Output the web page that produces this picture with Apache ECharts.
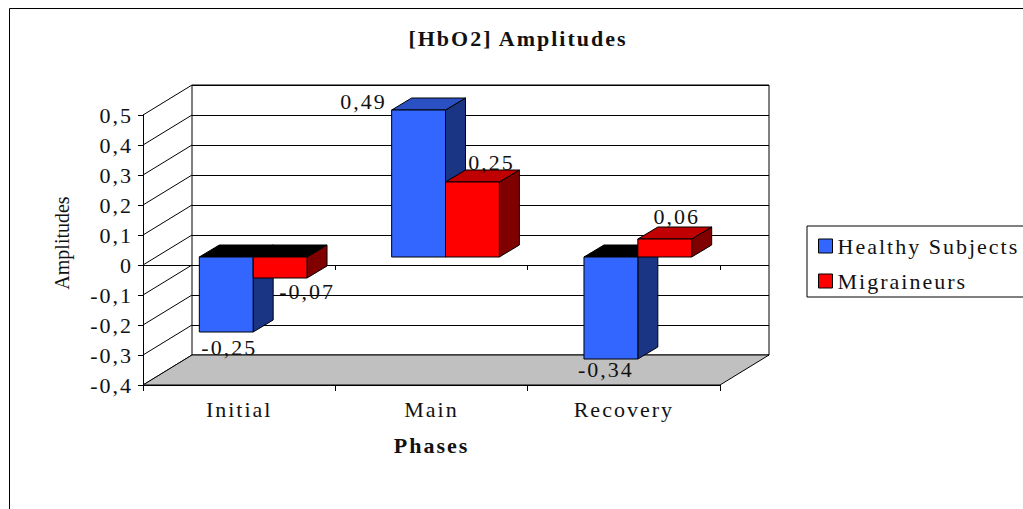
<!DOCTYPE html>
<html>
<head>
<meta charset="utf-8">
<script src="https://cdn.jsdelivr.net/npm/echarts@6/dist/echarts.min.js"></script>
<style>
html, body { margin: 0; padding: 0; background: #fff; }
#amplitudeContainer { width: 1023px; height: 509px; }
/* Excel-style loose letter spacing on the chart text */
#amplitudeContainer svg text { letter-spacing: 2px; }
#amplitudeContainer svg text[style*="20px"] { letter-spacing: 0; }
</style>
</head>
<body>
<div id="amplitudeContainer"></div>
<script>
var categories = ['Initial', 'Main', 'Recovery'];
var healthy = [-0.25, 0.49, -0.34];
var migraineurs = [-0.07, 0.25, 0.06];
var seriesNames = ['Healthy Subjects', 'Migraineurs'];
var yTicks = [-0.4, -0.3, -0.2, -0.1, 0, 0.1, 0.2, 0.3, 0.4, 0.5];

var FONT = 'Liberation Serif';
var TEXT = '#111';
var WALL = [49, -30];     // front plane -> back wall
var SHIFT = [14, -8];     // front plane -> bar front faces
var DEPTH = [20, -12];    // bar thickness
var BAR_FRAC = 0.28;

var palettes = [
    { front: '#3366FF', side: '#1B3585', top: '#2A50C4' },
    { front: '#FF0000', side: '#800000', top: '#C00000' }
];
// where each value label sits, relative to the bar's front face
var labelNudge = [
    [[3, 15], [-55, -9], [-5, 10]],
    [[27, 13], [19, -20], [12, -23]]
];

function fmt(v) {
    return String(+(+v).toFixed(2)).replace('.', ',');
}

function renderDiagonal(params, api) {
    var cs = params.coordSys;
    var y = api.coord([0, api.value(1)])[1];
    return {
        type: 'line',
        shape: { x1: cs.x, y1: y, x2: cs.x + WALL[0], y2: y + WALL[1] },
        style: { stroke: '#000', lineWidth: 1 }
    };
}

function renderFloor(params, api) {
    var cs = params.coordSys;
    var y = api.coord([0, api.value(1)])[1];
    var xl = cs.x, xr = cs.x + cs.width;
    return {
        type: 'polygon',
        shape: { points: [[xl, y], [xl + WALL[0], y + WALL[1]], [xr + WALL[0], y + WALL[1]], [xr, y]] },
        style: { fill: '#C0C0C0', stroke: '#000', lineWidth: 1 }
    };
}

function makeBar(k) {
    var pal = palettes[k];
    return function (params, api) {
        var ci = api.value(0), v = api.value(1);
        var band = api.size([1, 0])[0];
        var w = band * BAR_FRAC;
        var c = api.coord([ci, 0]);
        var t = api.coord([ci, v]);
        var x0 = c[0] + SHIFT[0] + (k === 0 ? -w : 0);
        var x1 = x0 + w;
        var yZero = c[1] + SHIFT[1];
        var yVal = t[1] + SHIFT[1];
        var yTop = Math.min(yZero, yVal), yBot = Math.max(yZero, yVal);
        var dx = DEPTH[0], dy = DEPTH[1];
        var nudge = labelNudge[k][params.dataIndex];
        return {
            type: 'group',
            children: [
                {
                    type: 'polygon',
                    shape: { points: [[x1, yTop], [x1 + dx, yTop + dy], [x1 + dx, yBot + dy], [x1, yBot]] },
                    style: { fill: pal.side, stroke: '#000', lineWidth: 1 }
                },
                {
                    type: 'polygon',
                    shape: { points: [[x0, yTop], [x0 + dx, yTop + dy], [x1 + dx, yTop + dy], [x1, yTop]] },
                    style: { fill: v < 0 ? '#000' : pal.top, stroke: '#000', lineWidth: 1 }
                },
                {
                    type: 'rect',
                    shape: { x: x0, y: yTop, width: w, height: yBot - yTop },
                    style: { fill: pal.front, stroke: '#000', lineWidth: 1 }
                },
                {
                    type: 'text',
                    x: (x0 + x1) / 2 + nudge[0],
                    y: yVal + nudge[1],
                    style: {
                        text: fmt(v),
                        fontFamily: FONT,
                        fontSize: 22,
                        fill: TEXT,
                        textAlign: 'center',
                        textVerticalAlign: 'middle'
                    }
                }
            ]
        };
    };
}

var dom = document.getElementById('amplitudeContainer');
var myChart = echarts.init(dom, null, { renderer: 'svg' });

var option = {
    backgroundColor: '#fff',
    animation: false,
    title: {
        text: '[HbO2] Amplitudes',
        left: 518,
        top: 27,
        padding: 0,
        textAlign: 'center',
        textStyle: { fontFamily: FONT, fontSize: 22, fontWeight: 'bold', color: TEXT }
    },
    legend: {
        data: seriesNames,
        orient: 'vertical',
        left: 807,
        top: 226,
        icon: 'rect',
        itemWidth: 14,
        itemHeight: 14,
        itemGap: 13,
        padding: [9, 60, 5, 11],
        borderColor: '#000',
        borderWidth: 1,
        borderRadius: 0,
        backgroundColor: '#fff',
        itemStyle: { borderColor: '#000', borderWidth: 1 },
        textStyle: { fontFamily: FONT, fontSize: 22, color: TEXT }
    },
    graphic: [
        {
            type: 'rect',
            x: 9.5,
            y: 8.5,
            shape: { width: 1100, height: 600 },
            style: { fill: 'none', stroke: '#000', lineWidth: 1 },
            silent: true
        }
    ],
    grid: [
        { left: 143, top: 115, width: 577, height: 270 },
        {
            left: 143 + WALL[0], top: 115 + WALL[1], width: 577, height: 270,
            show: true, borderColor: '#000', borderWidth: 1, backgroundColor: 'transparent'
        }
    ],
    xAxis: [
        {
            gridIndex: 0,
            type: 'category',
            data: categories,
            position: 'bottom',
            axisLine: { onZero: true, lineStyle: { color: '#000' } },
            axisTick: { show: true, length: 5, lineStyle: { color: '#000' } },
            axisLabel: { show: false }
        },
        {
            gridIndex: 0,
            type: 'category',
            data: categories,
            position: 'bottom',
            axisLine: { onZero: false, lineStyle: { color: '#000' } },
            axisTick: { show: true, length: 6, lineStyle: { color: '#000' } },
            axisLabel: { margin: 13, fontFamily: FONT, fontSize: 22, color: TEXT },
            name: 'Phases',
            nameLocation: 'middle',
            nameGap: 49,
            nameTextStyle: { fontFamily: FONT, fontSize: 22, fontWeight: 'bold', color: TEXT }
        },
        {
            gridIndex: 1,
            type: 'category',
            data: categories,
            axisLine: { show: false },
            axisTick: { show: false },
            axisLabel: { show: false }
        }
    ],
    yAxis: [
        {
            gridIndex: 0,
            type: 'value',
            min: yTicks[0],
            max: yTicks[yTicks.length - 1],
            interval: 0.1,
            axisLine: { show: true, lineStyle: { color: '#000' } },
            axisTick: { show: true, length: 5, lineStyle: { color: '#000' } },
            splitLine: { show: false },
            axisLabel: {
                margin: 10,
                fontFamily: FONT,
                fontSize: 22,
                color: TEXT,
                formatter: fmt
            },
            name: 'Amplitudes',
            nameLocation: 'middle',
            nameGap: 71,
            nameTextStyle: { fontFamily: FONT, fontSize: 20, color: TEXT, padding: [0, 0, 0, 14] }
        },
        {
            gridIndex: 1,
            type: 'value',
            min: yTicks[0],
            max: yTicks[yTicks.length - 1],
            interval: 0.1,
            axisLine: { show: false },
            axisTick: { show: false },
            axisLabel: { show: false },
            splitLine: { show: true, lineStyle: { color: '#000', width: 1 } }
        }
    ],
    series: [
        {
            type: 'custom',
            xAxisIndex: 0,
            yAxisIndex: 0,
            silent: true,
            z: 1,
            renderItem: renderDiagonal,
            data: yTicks.map(function (v) { return [0, v]; })
        },
        {
            type: 'custom',
            xAxisIndex: 0,
            yAxisIndex: 0,
            silent: true,
            z: 1,
            renderItem: renderFloor,
            data: [[0, yTicks[0]]]
        },
        {
            name: seriesNames[0],
            type: 'custom',
            xAxisIndex: 0,
            yAxisIndex: 0,
            z: 3,
            itemStyle: { color: palettes[0].front },
            renderItem: makeBar(0),
            data: healthy.map(function (v, i) { return [i, v]; })
        },
        {
            name: seriesNames[1],
            type: 'custom',
            xAxisIndex: 0,
            yAxisIndex: 0,
            z: 4,
            itemStyle: { color: palettes[1].front },
            renderItem: makeBar(1),
            data: migraineurs.map(function (v, i) { return [i, v]; })
        }
    ]
};

if (option && typeof option === 'object') {
    myChart.setOption(option);
}

window.addEventListener('resize', myChart.resize);
</script>
</body>
</html>
